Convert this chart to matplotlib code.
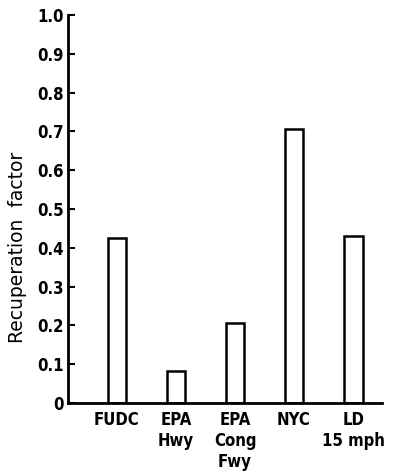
import matplotlib.pyplot as plt
import numpy as np

categories = ["FUDC", "EPA\nHwy", "EPA\nCong\nFwy", "NYC", "LD\n15 mph"]
recuperation = [0.425, 0.083, 0.207, 0.705, 0.431]
y_ticks = [0, 0.1, 0.2, 0.3, 0.4, 0.5, 0.6, 0.7, 0.8, 0.9, 1.0]
y_tick_labels = ["0", "0.1", "0.2", "0.3", "0.4", "0.5", "0.6", "0.7", "0.8", "0.9", "1.0"]

plt.rcParams["font.family"] = ["DejaVu Sans"]

fig = plt.figure(figsize=(3.94, 4.73), dpi=100)
ax = fig.add_axes([68 / 394, 70 / 473, 314 / 394, 388 / 473])

x = np.arange(len(categories))
ax.bar(x, recuperation, width=0.32, facecolor="white", edgecolor="black", linewidth=1.8)

ax.set_xlim(-0.83, 4.49)
ax.set_ylim(0, 1.0)
ax.set_yticks(y_ticks, labels=y_tick_labels)
ax.set_xticks(x, labels=categories)
ax.tick_params(axis="y", direction="in", length=5, width=1.5, pad=3, labelsize=12)
ax.tick_params(axis="x", length=0, pad=6, labelsize=12)
for label in ax.get_xticklabels() + ax.get_yticklabels():
    label.set_fontweight("bold")
    label.set_fontstretch("condensed")
for label in ax.get_xticklabels():
    label.set_linespacing(1.2)

for side in ["top", "right"]:
    ax.spines[side].set_visible(False)
for side in ["left", "bottom"]:
    ax.spines[side].set_linewidth(2)

ax.set_ylabel("Recuperation  factor", fontsize=13.5)
ax.yaxis.set_label_coords(-0.13, 0.40)

fig.savefig("out.png", dpi=100)
